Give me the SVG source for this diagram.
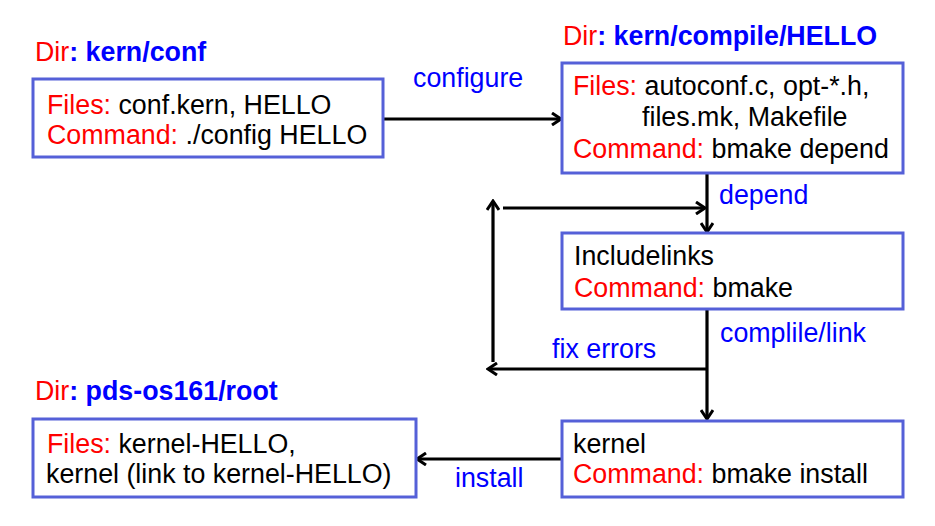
<svg xmlns="http://www.w3.org/2000/svg" width="935" height="526" viewBox="0 0 935 526">
<defs>
<style>
text{font-family:"Liberation Sans",Arial,sans-serif;font-size:26.8px;fill:#000}
.r{fill:#ff0000}
.b{fill:#0000ff}
.bb{fill:#0000ff;font-weight:bold}
.box{fill:#fff;stroke:#5560d8;stroke-width:3}
.ln{fill:none;stroke:#000;stroke-width:3.2}
</style>
<marker id="ah" viewBox="0 0 14 14" refX="12" refY="7" markerWidth="14" markerHeight="14" markerUnits="userSpaceOnUse" orient="auto">
<path d="M3,1 L12,7 L3,13" fill="none" stroke="#000" stroke-width="3"/>
</marker>
</defs>
<rect width="935" height="526" fill="#fff"/>
<g id="connectors">
<line class="ln" x1="383" y1="119" x2="561" y2="119" marker-end="url(#ah)"/>
<line class="ln" x1="707" y1="173" x2="707" y2="232" marker-end="url(#ah)"/>
<line class="ln" x1="503" y1="208" x2="705" y2="208" marker-end="url(#ah)"/>
<line class="ln" x1="493" y1="362" x2="493" y2="201" marker-end="url(#ah)"/>
<line class="ln" x1="707" y1="309" x2="707" y2="419" marker-end="url(#ah)"/>
<line class="ln" x1="707" y1="369" x2="488" y2="369" marker-end="url(#ah)"/>
<line class="ln" x1="562" y1="459" x2="417" y2="459" marker-end="url(#ah)"/>
<text class="b" x="413" y="87">configure</text>
<text class="b" x="719" y="204">depend</text>
<text class="b" x="720" y="342">complile/link</text>
<text class="b" x="552" y="358">fix errors</text>
<text class="b" x="455" y="487">install</text>
</g>
<g id="conf">
<text x="35" y="61"><tspan class="r">Dir</tspan><tspan class="bb">: kern/conf</tspan></text>
<rect class="box" x="33" y="79" width="350" height="78"/>
<text x="47" y="114"><tspan class="r">Files:</tspan> conf.kern, HELLO</text>
<text x="47" y="144"><tspan class="r">Command:</tspan> ./config HELLO</text>
</g>
<g id="compile">
<text x="563" y="45"><tspan class="r">Dir</tspan><tspan class="bb">: kern/compile/HELLO</tspan></text>
<rect class="box" x="562" y="63" width="341" height="110"/>
<text x="573" y="95"><tspan class="r">Files:</tspan> autoconf.c, opt-*.h,</text>
<text x="642" y="126">files.mk, Makefile</text>
<text x="573" y="158"><tspan class="r">Command:</tspan> bmake depend</text>
</g>
<g id="includelinks">
<rect class="box" x="562" y="233" width="341" height="76"/>
<text x="574" y="265">Includelinks</text>
<text x="574" y="297"><tspan class="r">Command:</tspan> bmake</text>
</g>
<g id="kernel">
<rect class="box" x="562" y="421" width="341" height="76"/>
<text x="573" y="453">kernel</text>
<text x="573" y="483"><tspan class="r">Command:</tspan> bmake install</text>
</g>
<g id="root">
<text x="35" y="400"><tspan class="r">Dir</tspan><tspan class="bb">: pds-os161/root</tspan></text>
<rect class="box" x="33" y="419" width="383" height="78"/>
<text x="47" y="453"><tspan class="r">Files:</tspan> kernel-HELLO,</text>
<text x="46" y="483">kernel (link to kernel-HELLO)</text>
</g>
</svg>
